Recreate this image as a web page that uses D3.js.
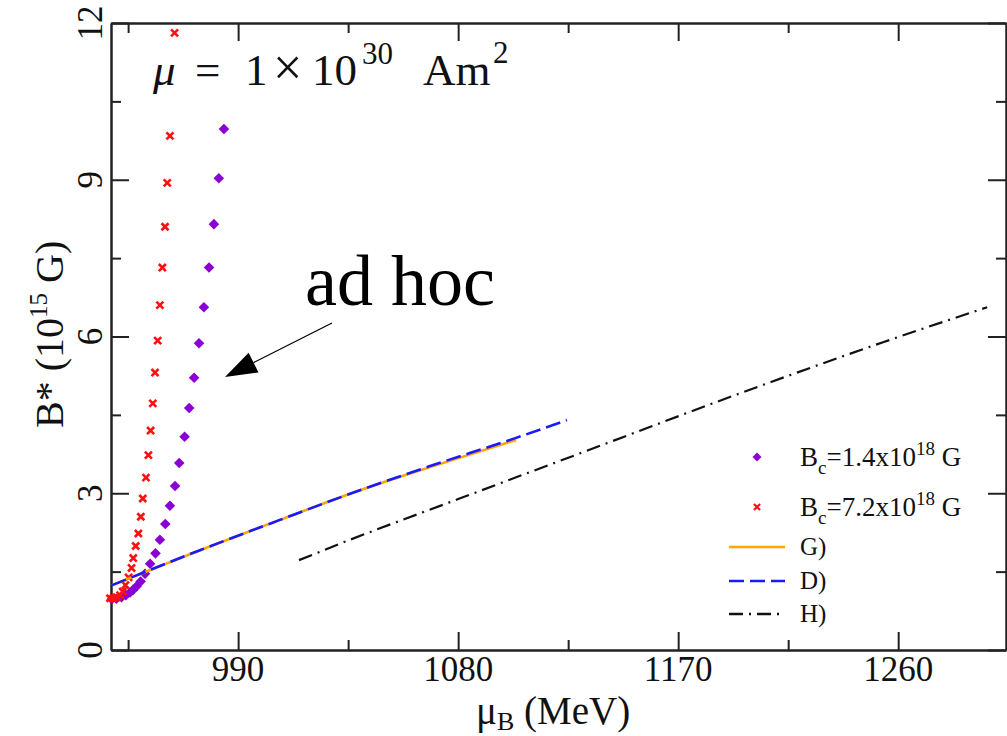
<!DOCTYPE html>
<html>
<head>
<meta charset="utf-8">
<script src="https://cdnjs.cloudflare.com/ajax/libs/d3/7.8.5/d3.min.js"></script>
<style>
  body { margin: 0; background: #fff; }
  svg { display: block; font-family: "Liberation Serif", "Times New Roman", serif; }
</style>
</head>
<body>
<svg id="chart"></svg>
<script>
// B_c = 1.4x10^18 G (diamonds)
const bc14Mu = [938.3, 940.2, 942.3, 944.1, 945.8, 947.0, 948.5, 950.1, 951.9, 954.0, 956.2, 958.0, 960.2, 962.1, 964.2, 965.9, 968.1, 970.0, 972.0, 974.0, 976.0, 978.1, 980.1, 982.1, 984.2];
const bc14B = [0.97, 0.98, 1.01, 1.05, 1.10, 1.15, 1.22, 1.31, 1.46, 1.65, 1.85, 2.11, 2.41, 2.76, 3.14, 3.58, 4.08, 4.63, 5.21, 5.87, 6.56, 7.32, 8.15, 9.03, 9.97];
// B_c = 7.2x10^18 G (crosses)
const bc72Mu = [937.6, 938.9, 940.3, 941.7, 942.8, 943.9, 945.2, 946.4, 947.1, 948.1, 949.2, 950.2, 951.0, 952.3, 953.3, 954.2, 955.1, 956.0, 957.1, 958.0, 959.0, 960.1, 961.0, 962.1, 964.0];
const bc72B = [0.99, 0.99, 1.01, 1.05, 1.12, 1.24, 1.39, 1.57, 1.76, 1.99, 2.23, 2.55, 2.90, 3.30, 3.73, 4.20, 4.72, 5.31, 5.92, 6.60, 7.32, 8.10, 8.94, 9.84, 11.81];
// curves
const gMu = [938.4, 974.4, 1007.1, 1035.8, 1068.5, 1103.7];
const gB = [1.24, 1.91, 2.49, 2.99, 3.50, 4.02];
const dMu = [938.4, 974.4, 1007.1, 1035.8, 1068.5, 1103.7, 1124.5];
const dB = [1.24, 1.91, 2.49, 2.99, 3.52, 4.06, 4.40];
const hMu = [1014.9, 1035.8, 1076.7, 1124.5, 1208.0, 1253.8, 1296.4];
const hB = [1.72, 2.11, 2.83, 3.67, 5.13, 5.89, 6.56];

const xMajor = [990, 1080, 1170, 1260];
const xMinor = [945, 1035, 1125, 1215];
const yMajor = [0, 3, 6, 9, 12];
const yMinor = [1.5, 4.5, 7.5, 10.5];

const width = 1007;
const height = 736;
const margin = { top: 23, right: 1, bottom: 86, left: 111 };

const svg = d3.select("#chart")
    .attr("width", width)
    .attr("height", height);

const x = d3.scaleLinear()
    .domain([938, 1304.1])
    .range([margin.left, width - margin.right]);

const y = d3.scaleLinear()
    .domain([0, 12])
    .range([height - margin.bottom, margin.top]);

const ink = "#222";

// frame + ticks (all ticks point inward)
function frameAxis(axisFn, scale, vals, len, tx, ty) {
    svg.append("g")
        .attr("transform", `translate(${tx},${ty})`)
        .attr("color", ink)
        .call(axisFn(scale).tickValues(vals).tickSizeInner(-len).tickSizeOuter(0).tickFormat(""))
        .call(g => g.selectAll("path, line").attr("stroke-width", 2));
}
const x0 = margin.left, x1 = width - margin.right;
const y0 = height - margin.bottom, y1 = margin.top;

frameAxis(d3.axisBottom, x, xMajor, 18, 0, y0);
frameAxis(d3.axisBottom, x, xMinor, 10, 0, y0);
frameAxis(d3.axisTop, x, xMajor, 18, 0, y1);
frameAxis(d3.axisTop, x, xMinor, 10, 0, y1);
frameAxis(d3.axisLeft, y, yMajor, 18, x0, 0);
frameAxis(d3.axisLeft, y, yMinor, 10, x0, 0);
frameAxis(d3.axisRight, y, yMajor, 18, x1, 0);
frameAxis(d3.axisRight, y, yMinor, 10, x1, 0);

// x tick labels
svg.append("g")
    .selectAll("text")
    .data(xMajor)
    .join("text")
    .attr("x", d => x(d))
    .attr("y", y0 + 31)
    .attr("text-anchor", "middle")
    .style("font-size", "35px")
    .style("fill", "#111")
    .text(d => d);

// y tick labels, rotated
svg.append("g")
    .selectAll("text")
    .data(yMajor)
    .join("text")
    .attr("transform", d => `translate(${x0 - 9},${y(d)}) rotate(-90)`)
    .attr("text-anchor", "middle")
    .style("font-size", "35px")
    .style("fill", "#111")
    .text(d => d);

// axis titles
const xt = svg.append("text")
    .attr("x", 476)
    .attr("y", 724)
    .style("font-size", "39px")
    .style("fill", "#111");
xt.append("tspan").text("\u03bc");
xt.append("tspan").attr("dy", 6).style("font-size", "26px").text("B");
xt.append("tspan").attr("dy", -6).text(" (MeV)");

const yt = svg.append("text")
    .attr("transform", "translate(63,428) rotate(-90)")
    .style("font-size", "40px")
    .style("fill", "#111");
yt.append("tspan").text("B* (10");
yt.append("tspan").attr("dy", -16).style("font-size", "25px").text("15");
yt.append("tspan").attr("dy", 16).text(" G)");

// data
const zipPts = (a, b) => a.map((v, i) => [v, b[i]]);

const plot = svg.append("g");

plot.selectAll("path.dia")
    .data(zipPts(bc14Mu, bc14B))
    .join("path")
    .attr("class", "dia")
    .attr("transform", d => `translate(${x(d[0])},${y(d[1])}) rotate(45)`)
    .attr("d", d3.symbol(d3.symbolSquare, 56))
    .attr("fill", "#8a00d4");

plot.selectAll("path.crs")
    .data(zipPts(bc72Mu, bc72B))
    .join("path")
    .attr("class", "crs")
    .attr("transform", d => `translate(${x(d[0])},${y(d[1])})`)
    .attr("d", d3.symbol(d3.symbolTimes, 34))
    .attr("fill", "none")
    .attr("stroke", "#ff1010")
    .attr("stroke-width", 2.6);

const line = d3.line().x(d => x(d[0])).y(d => y(d[1])).curve(d3.curveMonotoneX);

plot.append("path")
    .attr("d", line(zipPts(gMu, gB)))
    .attr("fill", "none")
    .attr("stroke", "#ffa500")
    .attr("stroke-width", 2.6);

plot.append("path")
    .attr("d", line(zipPts(dMu, dB)))
    .attr("fill", "none")
    .attr("stroke", "#1a1aff")
    .attr("stroke-width", 2.6)
    .attr("stroke-dasharray", "15,6");

plot.append("path")
    .attr("d", line(zipPts(hMu, hB)))
    .attr("fill", "none")
    .attr("stroke", "#111")
    .attr("stroke-width", 2.2)
    .attr("stroke-dasharray", "14,6,2,6");

// legend
const legend = svg.append("g").style("font-size", "27px").style("fill", "#111");
const lgX = 757, lgText = 800;

legend.append("path")
    .attr("transform", `translate(${lgX},457) rotate(45)`)
    .attr("d", d3.symbol(d3.symbolSquare, 40))
    .attr("fill", "#8a00d4");
const l1 = legend.append("text").attr("x", lgText).attr("y", 466);
l1.append("tspan").text("B");
l1.append("tspan").attr("dy", 8).style("font-size", "19px").text("c");
l1.append("tspan").attr("dy", -8).text("=1.4x10");
l1.append("tspan").attr("dy", -11).style("font-size", "19px").text("18");
l1.append("tspan").attr("dy", 11).text(" G");

legend.append("path")
    .attr("transform", `translate(${lgX},507)`)
    .attr("d", d3.symbol(d3.symbolTimes, 26))
    .attr("fill", "none")
    .attr("stroke", "#ff1010")
    .attr("stroke-width", 2.2);
const l2 = legend.append("text").attr("x", lgText).attr("y", 516);
l2.append("tspan").text("B");
l2.append("tspan").attr("dy", 8).style("font-size", "19px").text("c");
l2.append("tspan").attr("dy", -8).text("=7.2x10");
l2.append("tspan").attr("dy", -11).style("font-size", "19px").text("18");
l2.append("tspan").attr("dy", 11).text(" G");

const lineKeys = [
    { label: "G)", color: "#ffa500", dash: null, yy: 547 },
    { label: "D)", color: "#1a1aff", dash: "15,6", yy: 581 },
    { label: "H)", color: "#111", dash: "14,6,2,6", yy: 614 }
];
lineKeys.forEach(k => {
    legend.append("line")
        .attr("x1", 729).attr("x2", 785)
        .attr("y1", k.yy).attr("y2", k.yy)
        .attr("stroke", k.color)
        .attr("stroke-width", 2.6)
        .attr("stroke-dasharray", k.dash);
    legend.append("text")
        .attr("x", lgText)
        .attr("y", k.yy + 8)
        .style("font-size", "25px")
        .text(k.label);
});

// annotation: magnetic moment
const mu = svg.append("text")
    .attr("y", 85)
    .style("font-size", "45px")
    .style("fill", "#111");
mu.append("tspan").attr("x", 153).style("font-style", "italic").text("\u03bc");
mu.append("tspan").attr("x", 195).text("=");
mu.append("tspan").attr("x", 245).text("1");
mu.append("tspan").attr("x", 273).style("font-size", "52px").text("\u00d7");
mu.append("tspan").attr("x", 312).text("10");
mu.append("tspan").attr("x", 362).attr("dy", -21).style("font-size", "31px").text("30");
mu.append("tspan").attr("x", 423).attr("dy", 21).text("Am");
mu.append("tspan").attr("x", 493).attr("dy", -22).style("font-size", "31px").text("2");

// annotation: ad hoc + arrow
svg.append("text")
    .attr("x", 305)
    .attr("y", 305)
    .style("font-size", "72px")
    .style("fill", "#000")
    .text("ad hoc");

const arrowFrom = [332, 323], arrowTo = [225, 377];
const dx = arrowTo[0] - arrowFrom[0], dy = arrowTo[1] - arrowFrom[1];
const len = Math.hypot(dx, dy), ux = dx / len, uy = dy / len;
const headL = 32, headW = 11;
const bx = arrowTo[0] - ux * headL, by = arrowTo[1] - uy * headL;
svg.append("line")
    .attr("x1", arrowFrom[0]).attr("y1", arrowFrom[1])
    .attr("x2", bx).attr("y2", by)
    .attr("stroke", "#000")
    .attr("stroke-width", 1.3);
svg.append("path")
    .attr("d", `M${arrowTo[0]},${arrowTo[1]}L${bx - uy * headW},${by + ux * headW}L${bx + uy * headW},${by - ux * headW}Z`)
    .attr("fill", "#000");
</script>
</body>
</html>
